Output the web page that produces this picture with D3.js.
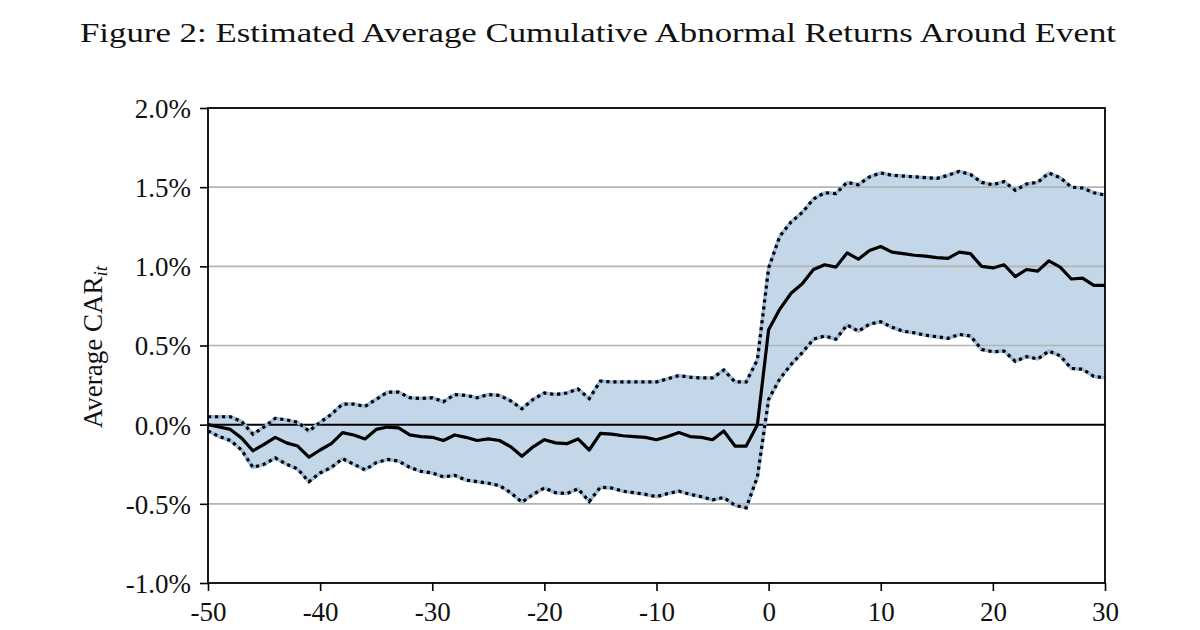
<!DOCTYPE html>
<html>
<head>
<meta charset="utf-8">
<script src="https://cdn.jsdelivr.net/npm/d3@7"></script>
<style>
  body { margin: 0; background: #fff; }
  svg text { font-family: "Liberation Serif", "DejaVu Serif", serif; fill: #111; }
</style>
</head>
<body>
<svg id="chart" width="1200" height="630"></svg>
<script>
// event days around the announcement
const days = [-50, -49, -48, -47, -46, -45, -44, -43, -42, -41, -40, -39, -38, -37, -36, -35, -34, -33, -32, -31,
  -30, -29, -28, -27, -26, -25, -24, -23, -22, -21, -20, -19, -18, -17, -16, -15, -14, -13, -12, -11,
  -10, -9, -8, -7, -6, -5, -4, -3, -2, -1, 0, 1, 2, 3, 4, 5, 6, 7, 8, 9,
  10, 11, 12, 13, 14, 15, 16, 17, 18, 19, 20, 21, 22, 23, 24, 25, 26, 27, 28, 29, 30];

// average CAR (in %)
const carMean = [0.00, -0.015, -0.03, -0.085, -0.165, -0.125, -0.08, -0.115, -0.135, -0.205,
  -0.16, -0.12, -0.05, -0.065, -0.09, -0.03, -0.015, -0.02, -0.065, -0.075,
  -0.08, -0.10, -0.065, -0.08, -0.10, -0.09, -0.10, -0.14, -0.20, -0.14,
  -0.095, -0.115, -0.12, -0.09, -0.16, -0.055, -0.06, -0.07, -0.075, -0.08,
  -0.095, -0.075, -0.05, -0.075, -0.08, -0.095, -0.04, -0.135, -0.135, 0.00,
  0.60, 0.73, 0.83, 0.89, 0.98, 1.01, 0.995, 1.085, 1.045, 1.10,
  1.125, 1.09, 1.08, 1.07, 1.065, 1.055, 1.05, 1.09, 1.08, 1.00,
  0.99, 1.01, 0.935, 0.98, 0.97, 1.035, 0.995, 0.92, 0.925, 0.88, 0.88];

// upper confidence bound (in %)
const carUpper = [0.05, 0.05, 0.05, 0.02, -0.06, -0.015, 0.04, 0.03, 0.015, -0.04,
  0.015, 0.065, 0.13, 0.13, 0.115, 0.16, 0.205, 0.205, 0.17, 0.165,
  0.17, 0.145, 0.19, 0.185, 0.17, 0.19, 0.185, 0.15, 0.10, 0.16,
  0.20, 0.19, 0.20, 0.225, 0.165, 0.275, 0.27, 0.27, 0.27, 0.27,
  0.27, 0.29, 0.31, 0.30, 0.295, 0.295, 0.345, 0.27, 0.27, 0.41,
  0.99, 1.19, 1.28, 1.34, 1.425, 1.465, 1.46, 1.53, 1.515, 1.565,
  1.59, 1.575, 1.57, 1.565, 1.56, 1.555, 1.575, 1.60, 1.58, 1.53,
  1.515, 1.535, 1.48, 1.52, 1.53, 1.59, 1.56, 1.50, 1.495, 1.465, 1.45];

// lower confidence bound (in %)
const carLower = [-0.04, -0.075, -0.10, -0.16, -0.27, -0.25, -0.21, -0.25, -0.28, -0.36,
  -0.305, -0.27, -0.215, -0.25, -0.285, -0.24, -0.22, -0.23, -0.27, -0.295,
  -0.305, -0.33, -0.32, -0.35, -0.36, -0.37, -0.385, -0.43, -0.49, -0.44,
  -0.40, -0.43, -0.435, -0.405, -0.485, -0.395, -0.40, -0.42, -0.43, -0.44,
  -0.455, -0.435, -0.42, -0.44, -0.455, -0.475, -0.46, -0.51, -0.525, -0.33,
  0.16, 0.29, 0.38, 0.455, 0.54, 0.56, 0.54, 0.63, 0.59, 0.635,
  0.65, 0.615, 0.59, 0.58, 0.565, 0.555, 0.545, 0.57, 0.56, 0.475,
  0.46, 0.465, 0.40, 0.43, 0.415, 0.465, 0.435, 0.355, 0.35, 0.305, 0.295];

const xTicks = [-50, -40, -30, -20, -10, 0, 10, 20, 30];
const yTicks = [-1.0, -0.5, 0.0, 0.5, 1.0, 1.5, 2.0];

const titleText = "Figure 2: Estimated Average Cumulative Abnormal Returns Around Event";

// plot box
const plotL = 208, plotR = 1105, plotT = 108, plotB = 583;

const xScale = d3.scaleLinear().domain([-50, 30]).range([plotL, plotR]);
const yScale = d3.scaleLinear().domain([-1.0, 2.0]).range([plotB, plotT]);

const rows = days.map((d, i) => ({ day: d, mean: carMean[i], lo: carLower[i], hi: carUpper[i] }));

const svg = d3.select("#chart");

// title
svg.append("text")
  .attr("x", 598)
  .attr("y", 42)
  .attr("text-anchor", "middle")
  .attr("font-size", 28)
  .attr("textLength", 1036)
  .attr("lengthAdjust", "spacingAndGlyphs")
  .text(titleText);

// confidence band
const band = d3.area()
  .x(d => xScale(d.day))
  .y0(d => yScale(d.lo))
  .y1(d => yScale(d.hi));

svg.append("path")
  .datum(rows)
  .attr("d", band)
  .attr("fill", "#c4d7e8");

// grey gridlines on top of the band
svg.append("g")
  .selectAll("line")
  .data(yTicks.filter(t => t !== 0 && t !== -1.0 && t !== 2.0))
  .join("line")
    .attr("x1", plotL)
    .attr("x2", plotR)
    .attr("y1", d => yScale(d))
    .attr("y2", d => yScale(d))
    .attr("stroke", "#b3b3b3")
    .attr("stroke-width", 1.6);

// zero line
svg.append("line")
  .attr("x1", plotL)
  .attr("x2", plotR)
  .attr("y1", yScale(0))
  .attr("y2", yScale(0))
  .attr("stroke", "#000")
  .attr("stroke-width", 2);

// band edges: light blue underlay + black dots
["lo", "hi"].forEach(k => {
  const edge = d3.line()
    .x(d => xScale(d.day))
    .y(d => yScale(d[k]));
  svg.append("path")
    .datum(rows)
    .attr("d", edge)
    .attr("fill", "none")
    .attr("stroke", "#9dbcdb")
    .attr("stroke-width", 3.5);
  svg.append("path")
    .datum(rows)
    .attr("d", edge)
    .attr("fill", "none")
    .attr("stroke", "#000")
    .attr("stroke-width", 3.2)
    .attr("stroke-dasharray", "3.2,3.8");
});

// mean CAR line
const meanLine = d3.line()
  .x(d => xScale(d.day))
  .y(d => yScale(d.mean));

svg.append("path")
  .datum(rows)
  .attr("d", meanLine)
  .attr("fill", "none")
  .attr("stroke", "#000")
  .attr("stroke-width", 3.2)
  .attr("stroke-linejoin", "round");

// axes (plain hyphen for negatives, like the original)
const xAxis = d3.axisBottom(xScale)
  .tickValues(xTicks)
  .tickFormat(d => String(d))
  .tickSize(8)
  .tickPadding(6);

const yAxis = d3.axisLeft(yScale)
  .tickValues(yTicks)
  .tickFormat(d => d.toFixed(1) + "%")
  .tickSize(8)
  .tickPadding(9);

const gx = svg.append("g")
  .attr("transform", `translate(0, ${plotB})`)
  .call(xAxis);

const gy = svg.append("g")
  .attr("transform", `translate(${plotL}, 0)`)
  .call(yAxis);

[gx, gy].forEach(g => {
  g.select(".domain").remove();
  g.selectAll(".tick line").attr("stroke", "#000").attr("stroke-width", 1.6);
  g.selectAll(".tick text")
    .attr("font-family", "Liberation Serif, serif")
    .attr("font-size", 27)
    .attr("fill", "#111");
});
gx.selectAll(".tick text").attr("dy", "0.9em");
gy.selectAll(".tick text").attr("dy", "0.35em");

// frame
svg.append("rect")
  .attr("x", plotL)
  .attr("y", plotT)
  .attr("width", plotR - plotL)
  .attr("height", plotB - plotT)
  .attr("fill", "none")
  .attr("stroke", "#000")
  .attr("stroke-width", 1.8);

// y axis label with subscript
const ylab = svg.append("text")
  .attr("transform", "translate(102, 347) rotate(-90)")
  .attr("text-anchor", "middle")
  .attr("font-size", 27);
ylab.append("tspan").text("Average CAR");
ylab.append("tspan")
  .attr("dy", 5)
  .attr("font-size", 19)
  .attr("font-style", "italic")
  .text("it");
</script>
</body>
</html>
